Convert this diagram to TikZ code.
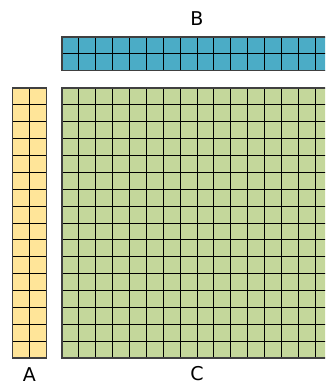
\documentclass[tikz,border=0pt]{standalone}
\usepackage{fontspec}
\setmainfont{DejaVu Sans}
\definecolor{cellblue}{HTML}{4BACC6}
\definecolor{cellyellow}{HTML}{FFE599}
\definecolor{cellgreen}{HTML}{C4D79B}
\begin{document}
\begin{tikzpicture}[x=1pt,y=-1pt,
  lbl/.style={font=\fontsize{19}{23}\selectfont, inner sep=0pt},
  gridline/.style={black, line width=0.9pt},
  outline/.style={draw=black!75, line width=1.2pt}]
\useasboundingbox (0,0) rectangle (325,385);
\clip (0,0) rectangle (325,385);
\def\s{16.875}
% B
\fill[cellblue] (62,37) rectangle (332,70.75);
\foreach \i in {1,...,15} \draw[gridline] ({62+\i*\s},37) -- ({62+\i*\s},70.75);
\draw[gridline] (62,53.875) -- (332,53.875);
\draw[outline] (62,37) rectangle (332,70.75);
% A
\fill[cellyellow] (12.5,88) rectangle (46.25,358);
\foreach \j in {1,...,15} \draw[gridline] (12.5,{88+\j*\s}) -- (46.25,{88+\j*\s});
\draw[gridline] (29.375,88) -- (29.375,358);
\draw[outline] (12.5,88) rectangle (46.25,358);
% C
\fill[cellgreen] (62,88) rectangle (332,358);
\foreach \i in {1,...,15} {
  \draw[gridline] ({62+\i*\s},88) -- ({62+\i*\s},358);
  \draw[gridline] (62,{88+\i*\s}) -- (332,{88+\i*\s});
}
\draw[outline] (62,88) rectangle (332,358);
% labels
\node[lbl] (B) at (197,19) {B};
\node[lbl] (A) at (29.4,374.5) {A};
\node[lbl] (C) at (197,374) {C};
\end{tikzpicture}
\end{document}
